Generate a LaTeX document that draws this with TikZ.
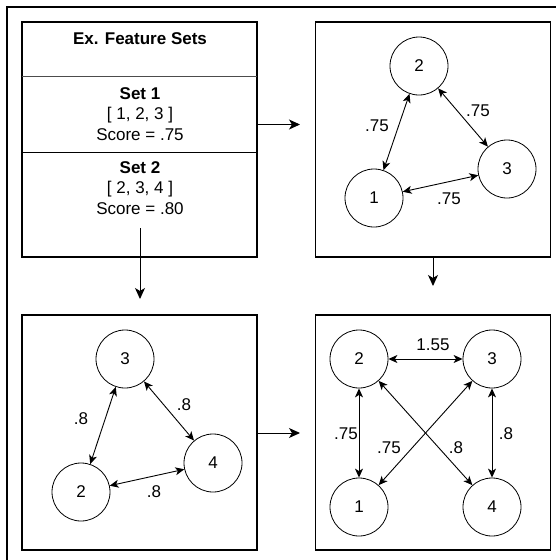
\documentclass[tikz,border=0pt]{standalone}
\usepackage{fontspec}
\setmainfont{Liberation Sans}
\usetikzlibrary{arrows.meta}
\begin{document}
\begin{tikzpicture}[x=1pt,y=-1pt,
  every node/.style={font=\fontsize{17}{20.5}\selectfont},
  panel/.style={draw, line width=1.1pt, inner sep=0pt, minimum width=235pt, minimum height=235pt},
  vtx/.style={draw, circle, line width=0.8pt, minimum size=58pt, inner sep=0pt},
  flow/.style={line width=1pt, -{Stealth[length=11pt,width=10pt,inset=3pt]}},
  link/.style={line width=0.9pt, {Stealth[length=9pt,width=8pt,inset=2.5pt]}-{Stealth[length=9pt,width=8pt,inset=2.5pt]}},
  lbl/.style={inner sep=0pt}]
\useasboundingbox (0,0) rectangle (556,560);
% outer frame (cropped on right and bottom)
\coordinate (otr) at (556,7);
\coordinate (otl) at (7,7);
\coordinate (obl) at (7,560);
\draw[line width=1.6pt] (otr) -- (otl) -- (obl);

% feature set box
\node[panel] (fs) at (139.5,139.5) {};
\coordinate (hl) at (22,76);  \coordinate (hr) at (257,76);
\coordinate (sl) at (22,152); \coordinate (sr) at (257,152);
\draw[line width=0.8pt, black!70] (hl) -- (hr);
\draw[line width=1pt] (sl) -- (sr);
\node[lbl, font=\fontsize{17}{20.5}\selectfont\bfseries] (title) at (140,39) {Ex. Feature Sets};
\node[lbl, align=center] (set1) at (140,114) {\textbf{Set 1}\\{[} 1, 2, 3 {]}\\Score = .75};
\node[lbl, align=center] (set2) at (140,188) {\textbf{Set 2}\\{[} 2, 3, 4 {]}\\Score = .80};

% panels
\node[panel] (g1) at (433,139.5) {};
\node[panel] (g2) at (139.5,432.5) {};
\node[panel] (g3) at (433,432.5) {};

% flow arrows
\coordinate (fsout) at (140,228);
\coordinate (fsdown) at (140,299);
\draw[flow] (fsout) -- (fsdown);
\coordinate (fsr) at (257,124.5);
\coordinate (g1in) at (300,124.5);
\draw[flow] (fsr) -- (g1in);
\coordinate (g1down) at (433,286);
\draw[flow] (g1.south) -- (g1down);
\coordinate (g2r) at (257,433);
\coordinate (g3in) at (300,433);
\draw[flow] (g2r) -- (g3in);

% graph 1
\node[vtx] (a2) at (419,66) {2};
\node[vtx] (a1) at (374,198) {1};
\node[vtx] (a3) at (507,169) {3};
\draw[link] (a2) -- (a1);
\draw[link] (a2) -- (a3);
\draw[link] (a1) -- (a3);
\node[lbl] (la21) at (377,126) {.75};
\node[lbl] (la23) at (478,111) {.75};
\node[lbl] (la13) at (449,199) {.75};

% graph 2
\node[vtx] (b3) at (125,359) {3};
\node[vtx] (b4) at (213,463) {4};
\node[vtx] (b2) at (81,492) {2};
\draw[link] (b3) -- (b2);
\draw[link] (b3) -- (b4);
\draw[link] (b2) -- (b4);
\node[lbl] (lb32) at (81,419) {.8};
\node[lbl] (lb34) at (184,405) {.8};
\node[lbl] (lb24) at (154,492) {.8};

% graph 3
\node[vtx] (c2) at (359,359) {2};
\node[vtx] (c3) at (492,359) {3};
\node[vtx] (c1) at (359,507) {1};
\node[vtx] (c4) at (492,507) {4};
\draw[link] (c2) -- (c3);
\draw[link] (c2) -- (c1);
\draw[link] (c3) -- (c4);
\draw[link] (c2) -- (c4);
\draw[link] (c3) -- (c1);
\node[lbl] (lc23) at (433,345) {1.55};
\node[lbl] (lc21) at (346,434) {.75};
\node[lbl] (lc31) at (389,448) {.75};
\node[lbl] (lc24) at (456,448) {.8};
\node[lbl] (lc34) at (506,434) {.8};
\end{tikzpicture}
\end{document}
